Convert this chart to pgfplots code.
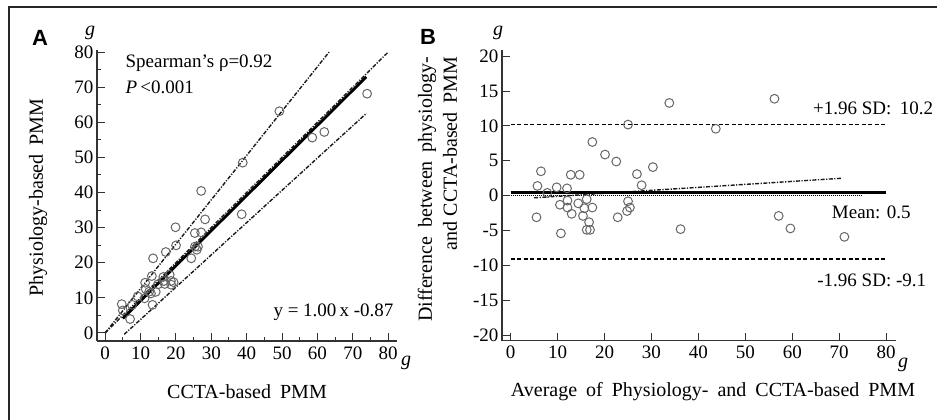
\documentclass[border=0pt]{standalone}
\usepackage{fontspec}
\setmainfont{Liberation Serif}
\setsansfont{Liberation Sans}
\usepackage{pgfplots}
\usepackage{pgfplotstable}
\pgfplotsset{compat=1.18}

\pgfplotstableread{
C P
5.0 6.4
7.05 3.95
4.7 8.2
7.6 8.0
9.2 10.4
11.15 9.85
13.4 8.0
11.475 12.525
12.45 11.75
12.95 11.25
11.3 14.3
14.3 11.7
13.2 16.2
14.95 13.85
16.85 13.95
16.45 15.95
16.6 14.8
18.6 14.8
18.65 13.75
19.35 14.45
13.55 21.25
18.25 16.55
17.15 23.05
20.05 24.95
24.35 21.25
19.9 30.1
25.4 24.6
25.9 23.7
26.25 24.55
25.35 28.45
27.15 28.65
28.25 32.35
27.15 40.45
38.6 33.8
38.9 48.5
49.25 63.15
58.55 55.65
61.95 57.25
74.05 68.15
}\corrdata

\pgfplotstableread{
avg diff
5.7 1.4
5.5 -3.1
6.45 3.5
7.8 0.4
9.8 1.2
10.5 -1.3
10.7 -5.4
12.0 1.05
12.1 -0.7
12.1 -1.7
12.8 3.0
13.0 -2.6
14.7 3.0
14.4 -1.1
15.4 -2.9
16.2 -0.5
15.7 -1.8
16.7 -3.8
16.2 -4.9
16.9 -4.9
17.4 7.7
17.4 -1.7
20.1 5.9
22.5 4.9
22.8 -3.1
25.0 10.2
25.0 -0.8
24.8 -2.2
25.4 -1.7
26.9 3.1
27.9 1.5
30.3 4.1
33.8 13.3
36.2 -4.8
43.7 9.6
56.2 13.9
57.1 -2.9
59.6 -4.7
71.1 -5.9
}\bladata

\newcommand{\s}{\hspace{0.45em}}
\newcommand{\fl}{\fontsize{20}{20}\selectfont}
\newcommand{\fa}{\fontsize{19}{19}\selectfont}
\newcommand{\ft}{\fontsize{19}{19}\selectfont}

\pgfplotsset{
  common/.style={
    scale only axis, clip=false,
    axis x line*=bottom, axis y line*=left,
    axis line style={-, line width=1.2pt, black!80},
    tick align=inside, major tick length=8pt, minor tick length=4pt,
    every tick/.style={line width=1pt, black!80},
    xticklabel style={font=\ft, yshift=-2pt},
    yticklabel style={font=\ft},
    /pgf/number format/assume math mode=true,
    xtick pos=bottom, ytick pos=left,
  },
  dd/.style={black!90, line width=1.4pt, dash pattern=on 4pt off 1.5pt on 1.2pt off 1.5pt},
  circ/.style={only marks, mark=o, mark size=4.4pt, mark options={draw=black!60, line width=1pt}},
}

\begin{document}
\begin{tikzpicture}
\useasboundingbox (0,0) rectangle (937pt,420pt);
\draw[line width=2pt, black!85] (8.5pt,-5pt) -- (8.5pt,413pt) -- (945pt,413pt);

% Panel A
\begin{axis}[common,
  width=300pt, height=291pt, at={(97pt,79pt)}, anchor=south west,
  xmin=-2.3, xmax=82.5, ymin=-2.3, ymax=80.6,
  xtick={0,10,...,80}, ytick={0,10,...,80},
  xticklabels={0,10,20,30,40,50,60,70,80},
  yticklabels={0,10,20,30,40,50,60,70,80},
  minor xtick={5,15,...,75}, minor ytick={5,15,...,75},
]
\addplot[dd] coordinates {(0,0) (80,80)};
\addplot[dd] coordinates {(0,0) (63.3,80)};
\addplot[dd] coordinates {(5.4,-0.4) (73.9,62.6)};
\addplot[black, line width=2.8pt] coordinates {(5,4.13) (73.8,72.93)};
\addplot[circ] table[x=C, y=P] {\corrdata};
\node[anchor=west, font=\fa] at (axis cs:4.8,76.9) {Spearman's ρ=0.92};
\node[anchor=west, font=\fa] at (axis cs:4.8,70.1) {\textit{P}\,<0.001};
\node[anchor=east, font=\fa] at (axis cs:82.5,6.0) {y = 1.00\,x -0.87};
\end{axis}

% Panel B
\begin{axis}[common,
  width=394pt, height=290.7pt, at={(502pt,79.3pt)}, anchor=south west,
  xmin=-1.85, xmax=82.1, ymin=-20.8, ymax=20.9,
  xtick={0,10,...,80}, xticklabels={0,10,20,30,40,50,60,70,80},
  ytick={-20,-15,...,20}, yticklabels={-20,-15,-10,-5,0,5,10,15,20},
]
\addplot[black, line width=1.5pt, dash pattern=on 4pt off 2.5pt] coordinates {(0,10.2) (80,10.2)};
\addplot[black, line width=1.5pt, dash pattern=on 4pt off 2.5pt] coordinates {(0,-9.1) (80,-9.1)};
\addplot[black, line width=1.4pt, dash pattern=on 1pt off 1pt] coordinates {(0,0) (74.7,0)};
\addplot[dd] coordinates {(5,-0.3) (70.5,2.5)};
\addplot[black, line width=2.8pt] coordinates {(0,0.5) (80,0.5)};
\addplot[circ] table[x=avg, y=diff] {\bladata};
\node[anchor=west, font=\fa] at (axis cs:63.7,12.6) {+1.96 SD:\s10.2};
\node[anchor=west, font=\fa] at (axis cs:67.7,-2.45) {Mean: 0.5};
\node[anchor=west, font=\fa] at (axis cs:64.6,-12.1) {-1.96 SD: -9.1};
\end{axis}

% labels
\node[font=\sffamily\bfseries\fontsize{22}{22}\selectfont] at (40pt,382pt) {A};
\node[font=\sffamily\bfseries\fontsize{22}{22}\selectfont] at (428pt,383pt) {B};
\node[font=\fl] at (90pt,387pt) {\textit{g}};
\node[font=\fl] at (406pt,57pt) {\textit{g}};
\node[font=\fl] at (498pt,387pt) {\textit{g}};
\node[font=\fl] at (903pt,55pt) {\textit{g}};
\node[font=\fl, rotate=90] at (38pt,222.5pt) {Physiology-based\s PMM};
\node[font=\fl] at (247pt,28pt) {CCTA-based\s PMM};
\node[font=\fl, rotate=90, anchor=east] at (427pt,367pt) {Difference\s between\s physiology-};
\node[font=\fl, rotate=90, anchor=east] at (450pt,367pt) {and CCTA-based\s PMM};
\node[font=\fl] at (713pt,28pt) {Average\s of\s Physiology-\s and\s CCTA-based\s PMM};
\end{tikzpicture}
\end{document}
